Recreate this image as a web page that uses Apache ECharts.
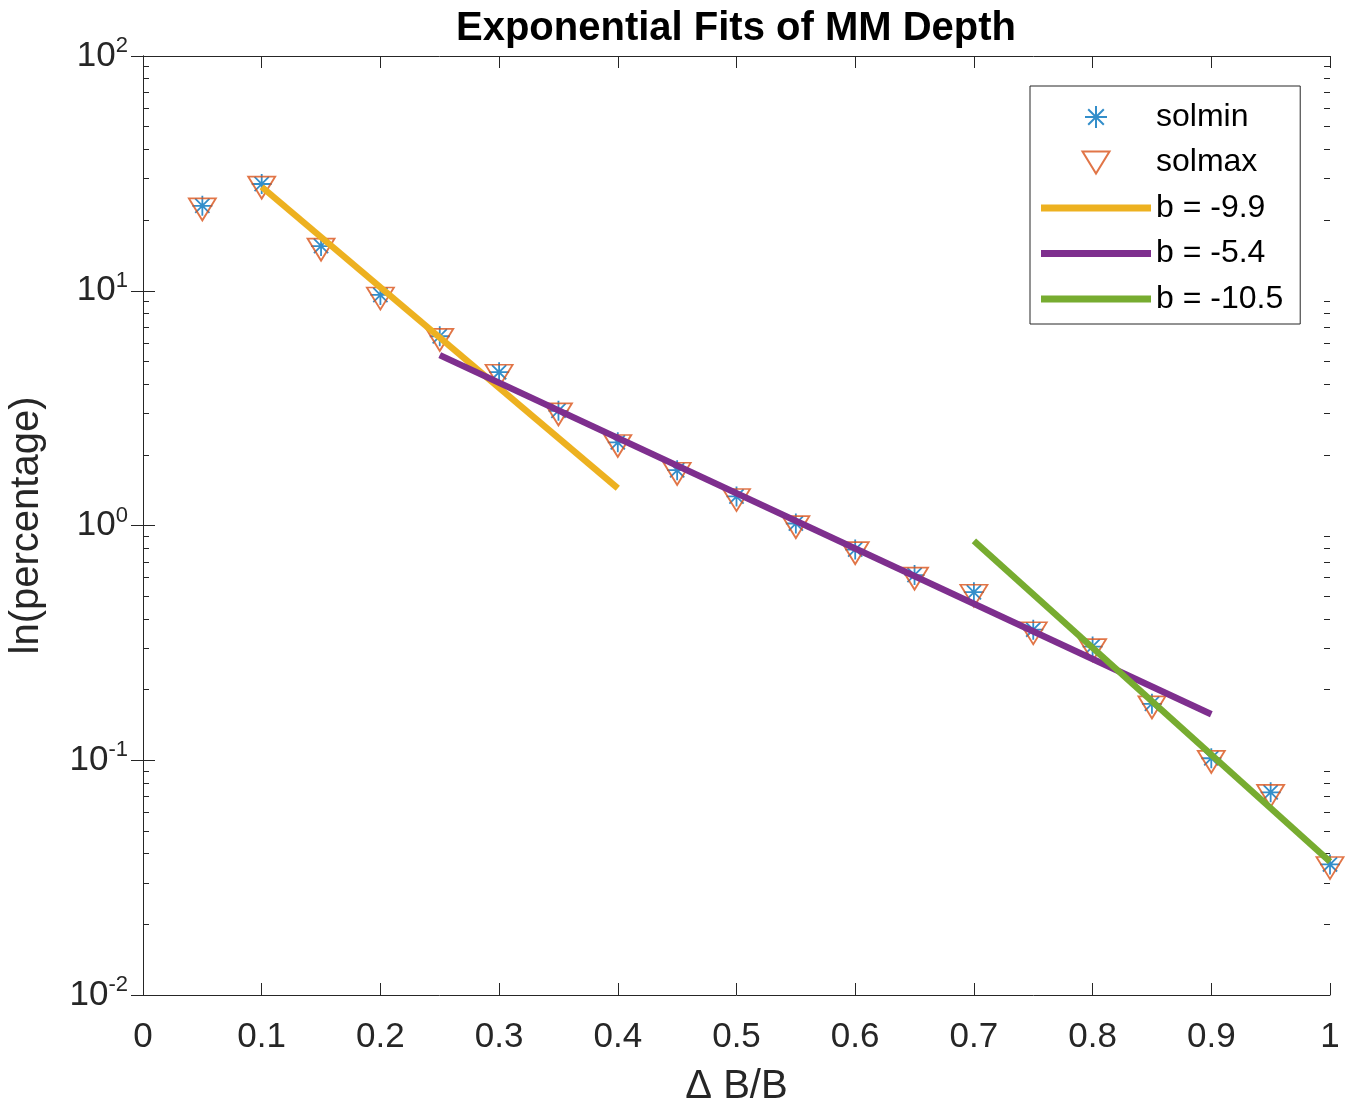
<!DOCTYPE html>
<html>
<head>
<meta charset="utf-8">
<script src="https://cdn.jsdelivr.net/npm/echarts@6/dist/echarts.min.js"></script>
<style>
html,body{margin:0;padding:0;background:#fff;}
#chart{width:1354px;height:1108px;}
</style>
</head>
<body>
<div id="chart"></div>
<script>
// ---- data ----
const xValues = [0.05,0.1,0.15,0.2,0.25,0.3,0.35,0.4,0.45,0.5,0.55,0.6,0.65,0.7,0.75,0.8,0.85,0.9,0.95,1.0];
const solmin  = [23.0,28.5,15.5,9.6,6.4,4.5,3.08,2.26,1.72,1.33,1.02,0.79,0.615,0.52,0.36,0.305,0.174,0.102,0.073,0.036];
const solmax  = [23.0,28.5,15.5,9.6,6.4,4.5,3.08,2.26,1.72,1.33,1.02,0.79,0.615,0.52,0.36,0.305,0.174,0.102,0.073,0.036];
const fit1X = [0.1, 0.4];   const fit1Y = [27.7, 1.44];
const fit2X = [0.25, 0.9];  const fit2Y = [5.32, 0.157];
const fit3X = [0.7, 1.0];   const fit3Y = [0.86, 0.037];
const seriesNames = ['solmin','solmax','b = -9.9','b = -5.4','b = -10.5'];
const minorTickValues = [0.02,0.03,0.04,0.05,0.06,0.07,0.08,0.09,0.2,0.3,0.4,0.5,0.6,0.7,0.8,0.9,2,3,4,5,6,7,8,9,20,30,40,50,60,70,80,90];

const pair = (xs, ys) => xs.map((x, i) => [x, ys[i]]);
const FONT = "'Liberation Sans', Arial, Helvetica, sans-serif";
const AX = '#262626';
const starPath = 'path://M10,0L10,20M0,10L20,10M2.9,2.9L17.1,17.1M2.9,17.1L17.1,2.9';
const triPath = 'path://M0,0L27,0L13.5,22Z';
const legendLinePath = 'path://M0,0L110,0L110,7L0,7Z';

const chart = echarts.init(document.getElementById('chart'), null, {renderer: 'canvas'});
const gridRect = {left: 143, right: 24, top: 56, bottom: 113, containLabel: false, outerBoundsMode: 'none'};

const yAxisCommon = {
  type: 'log', logBase: 10, gridIndex: 0, min: 0.01, max: 100,
  axisLine: {show: true, lineStyle: {color: AX, width: 1}},
  axisTick: {show: true, inside: true, length: 12, lineStyle: {color: AX}},
  splitLine: {show: false}
};
// minor ticks: a linear axis in decades overlaying the log axis (same grid rectangle)
const minorAxisCommon = {
  type: 'value', gridIndex: 1, min: -2, max: 2,
  axisLine: {show: false},
  axisTick: {show: true, inside: true, length: 6, lineStyle: {color: AX},
    customValues: minorTickValues.map(v => Math.log10(v))},
  axisLabel: {show: false},
  splitLine: {show: false}
};

const option = {
  backgroundColor: '#fff',
  animation: false,
  title: {
    text: 'Exponential Fits of MM Depth',
    left: 731, top: 4, textAlign: 'center',
    textStyle: {fontFamily: FONT, fontWeight: 'bold', fontSize: 40, color: '#000'}
  },
  legend: {
    data: [
      {name: seriesNames[0], itemStyle: {borderWidth: 2}},
      {name: seriesNames[1], itemStyle: {borderWidth: 2}},
      {name: seriesNames[2], icon: legendLinePath},
      {name: seriesNames[3], icon: legendLinePath},
      {name: seriesNames[4], icon: legendLinePath}
    ],
    orient: 'vertical',
    left: 1030, top: 86,
    itemWidth: 110, itemHeight: 22, itemGap: 13.5,
    symbolKeepAspect: true,
    padding: [15, 17, 9, 11],
    backgroundColor: '#fff',
    borderColor: AX, borderWidth: 1,
    textStyle: {fontFamily: FONT, fontSize: 32, color: '#000', lineHeight: 30},
    selectedMode: false
  },
  grid: [Object.assign({}, gridRect), Object.assign({}, gridRect)],
  xAxis: [
    {
      type: 'value', gridIndex: 0, position: 'bottom', min: 0, max: 1, interval: 0.1,
      name: 'Δ B/B', nameLocation: 'middle', nameGap: 72,
      nameTextStyle: {fontFamily: FONT, fontSize: 40, color: AX},
      axisLine: {show: true, lineStyle: {color: AX, width: 1}},
      axisTick: {show: true, inside: true, length: 12, lineStyle: {color: AX}},
      axisLabel: {fontFamily: FONT, fontSize: 35, color: AX, margin: 25,
        formatter: v => String(parseFloat(v.toFixed(1)))},
      splitLine: {show: false}
    },
    {
      type: 'value', gridIndex: 0, position: 'top', min: 0, max: 1, interval: 0.1,
      axisLine: {show: true, lineStyle: {color: AX, width: 1}},
      axisTick: {show: true, inside: true, length: 12, lineStyle: {color: AX}},
      axisLabel: {show: false}, splitLine: {show: false}
    },
    {
      type: 'value', gridIndex: 1, min: 0, max: 1, show: false
    }
  ],
  yAxis: [
    Object.assign({}, yAxisCommon, {
      position: 'left',
      name: 'ln(percentage)', nameLocation: 'middle', nameGap: 96,
      nameTextStyle: {fontFamily: FONT, fontSize: 40, color: AX},
      axisLabel: {
        margin: 15, color: AX,
        formatter: v => '{b|10}{e|' + Math.round(Math.log10(v)) + '}',
        rich: {
          b: {fontFamily: FONT, fontSize: 35, color: AX},
          e: {fontFamily: FONT, fontSize: 22, color: AX, padding: [0, 0, 20, 0]}
        }
      }
    }),
    Object.assign({}, yAxisCommon, {
      position: 'right',
      axisLabel: {show: false}
    }),
    Object.assign({}, minorAxisCommon, {position: 'left'}),
    Object.assign({}, minorAxisCommon, {position: 'right'})
  ],
  series: [
    {
      name: seriesNames[0], type: 'scatter', xAxisIndex: 0, yAxisIndex: 0,
      data: pair(xValues, solmin),
      symbol: starPath, symbolSize: 20, symbolKeepAspect: true,
      itemStyle: {color: 'transparent', borderColor: '#0072BD', borderWidth: 1.8},
      z: 2
    },
    {
      name: seriesNames[1], type: 'scatter', xAxisIndex: 0, yAxisIndex: 0,
      data: pair(xValues, solmax),
      symbol: triPath, symbolSize: [27, 22], symbolOffset: [0, 3.6],
      itemStyle: {color: 'transparent', borderColor: '#D95319', borderWidth: 1.8},
      z: 3
    },
    {
      name: seriesNames[2], type: 'line', xAxisIndex: 0, yAxisIndex: 0,
      data: pair(fit1X, fit1Y), symbol: 'none', showSymbol: false,
      lineStyle: {color: '#EDB120', width: 6.5}, itemStyle: {color: '#EDB120'}, z: 4
    },
    {
      name: seriesNames[3], type: 'line', xAxisIndex: 0, yAxisIndex: 0,
      data: pair(fit2X, fit2Y), symbol: 'none', showSymbol: false,
      lineStyle: {color: '#7E2F8E', width: 6.5}, itemStyle: {color: '#7E2F8E'}, z: 4
    },
    {
      name: seriesNames[4], type: 'line', xAxisIndex: 0, yAxisIndex: 0,
      data: pair(fit3X, fit3Y), symbol: 'none', showSymbol: false,
      lineStyle: {color: '#77AC30', width: 6.5}, itemStyle: {color: '#77AC30'}, z: 4
    }
  ]
};
chart.setOption(option);
</script>
</body>
</html>
